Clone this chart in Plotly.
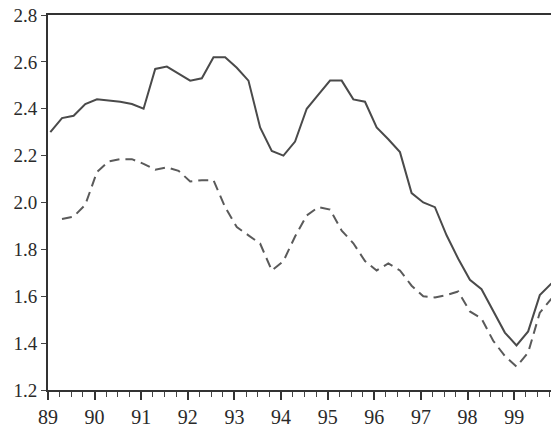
import plotly.graph_objects as go

# quarterly observations, 1989Q1 .. 1999Q4
periods = [(y, q) for y in range(89, 100) for q in range(1, 5)]
x_pos = [y + (q - 1) / 4 + 0.05 for y, q in periods]

solid_vals = [2.30, 2.36, 2.37, 2.42, 2.44, 2.435, 2.43, 2.42, 2.40, 2.57, 2.58, 2.55,
              2.52, 2.53, 2.62, 2.62, 2.575, 2.52, 2.32, 2.22, 2.20, 2.26, 2.40, 2.46,
              2.52, 2.52, 2.44, 2.43, 2.32, 2.27, 2.215, 2.04, 2.00, 1.98, 1.86, 1.76,
              1.67, 1.63, 1.54, 1.445, 1.39, 1.45, 1.605, 1.655]
dashed_vals = [None, 1.93, 1.94, 1.99, 2.13, 2.175, 2.185, 2.185, 2.165, 2.14, 2.15, 2.135,
               2.09, 2.095, 2.095, 1.98, 1.895, 1.86, 1.825, 1.71, 1.75, 1.855, 1.945, 1.98,
               1.97, 1.88, 1.826, 1.75, 1.71, 1.74, 1.71, 1.645, 1.60, 1.595, 1.605, 1.62,
               1.535, 1.505, 1.41, 1.345, 1.30, 1.36, 1.53, 1.59]

year_ticks = [89, 90, 91, 92, 93, 94, 95, 96, 97, 98, 99]
year_labels = ['89', '90', '91', '92', '93', '94', '95', '96', '97', '98', '99']
y_ticks = [1.2, 1.4, 1.6, 1.8, 2.0, 2.2, 2.4, 2.6, 2.8]

fig = go.Figure()
fig.add_trace(go.Scatter(x=x_pos, y=solid_vals, mode='lines',
                         line=dict(color='#4a4a4a', width=2)))
fig.add_trace(go.Scatter(x=x_pos, y=dashed_vals, mode='lines',
                         line=dict(color='#5a5a5a', width=2, dash='10px,6px')))

fig.update_layout(
    width=551, height=433,
    margin=dict(l=48, r=0, t=15, b=43),
    plot_bgcolor='white', paper_bgcolor='white',
    showlegend=False,
    font=dict(family='Liberation Serif', size=19, color='#2a2a2a'),
)
fig.update_xaxes(
    range=[89, 99.79], tickvals=year_ticks, ticktext=year_labels,
    showgrid=False, zeroline=False,
    showline=True, linecolor='#333', linewidth=2, mirror=True,
    ticks='outside', ticklen=8, tickwidth=1.5, tickcolor='#333',
    minor=dict(dtick=0.25, tick0=89, ticks='outside', ticklen=5, tickwidth=1, tickcolor='#444', showgrid=False),
    tickfont=dict(size=20),
)
fig.update_yaxes(
    range=[1.2, 2.8], tickvals=y_ticks, tickformat='.1f',
    showgrid=False, zeroline=False,
    showline=True, linecolor='#333', linewidth=2,
    ticks='outside', ticklen=5, tickwidth=1, tickcolor='#444',
)

# drop the default 8px body margin so the figure fills the window
fig.write_html("out.html", config={'displayModeBar': False},
               post_script="document.body.style.margin='0px';")
